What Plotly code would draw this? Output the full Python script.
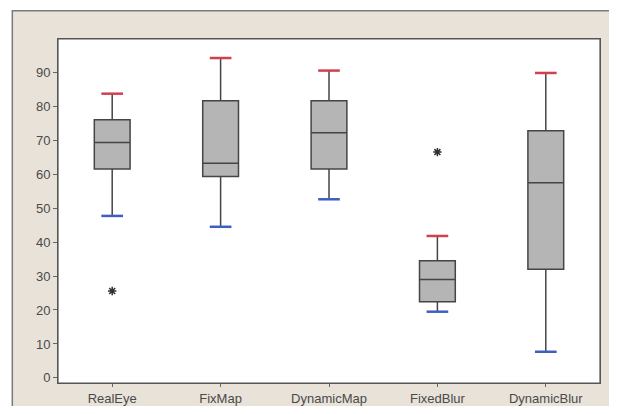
import plotly.graph_objects as go

categories = ["RealEye", "FixMap", "DynamicMap", "FixedBlur", "DynamicBlur"]
upper_whisker = [83.7, 94.2, 90.5, 41.8, 89.8]
q3 = [76.0, 81.6, 81.6, 34.5, 72.8]
median = [69.3, 63.2, 72.2, 29.0, 57.5]
q1 = [61.5, 59.3, 61.5, 22.4, 32.0]
lower_whisker = [47.7, 44.5, 52.6, 19.5, 7.7]
outlier_cat = ["RealEye", "FixedBlur"]
outlier_val = [25.6, 66.5]
y_ticks = [0, 10, 20, 30, 40, 50, 60, 70, 80, 90]

xpos = list(range(len(categories)))

fig = go.Figure()
fig.add_trace(go.Box(
    x=xpos, q1=q1, median=median, q3=q3,
    lowerfence=lower_whisker, upperfence=upper_whisker,
    width=0.33, whiskerwidth=0, boxpoints=False,
    fillcolor="#B5B5B5", line=dict(color="#454545", width=1.5),
    showlegend=False, hoverinfo="skip",
))

def caps(vals):
    xs, ys = [], []
    for i, v in zip(xpos, vals):
        xs += [i - 0.1, i + 0.1, None]
        ys += [v, v, None]
    return xs, ys

cx, cy = caps(upper_whisker)
fig.add_trace(go.Scatter(x=cx, y=cy, mode="lines", line=dict(color="#D0404F", width=2.5),
                         showlegend=False, hoverinfo="skip"))
cx, cy = caps(lower_whisker)
fig.add_trace(go.Scatter(x=cx, y=cy, mode="lines", line=dict(color="#3F5FC0", width=2.5),
                         showlegend=False, hoverinfo="skip"))

fig.add_trace(go.Scatter(
    x=[categories.index(c) for c in outlier_cat], y=outlier_val, mode="markers",
    marker=dict(symbol="asterisk-open", size=7, color="#303030", line=dict(color="#303030", width=1.5)),
    showlegend=False, hoverinfo="skip",
))

BEIGE = "#E8E2D9"
FX0, FY1 = -0.0843, 1.082
# white strips outside the beige frame (top / left)
fig.add_shape(type="rect", xref="paper", yref="paper", x0=-0.2, x1=1.2, y0=FY1, y1=1.2,
              fillcolor="white", line=dict(width=0), layer="below")
fig.add_shape(type="rect", xref="paper", yref="paper", x0=-0.2, x1=FX0, y0=-0.2, y1=1.2,
              fillcolor="white", line=dict(width=0), layer="below")
# beige frame outline
fig.add_shape(type="rect", xref="paper", yref="paper", x0=FX0, x1=1.08, y0=-0.15, y1=FY1,
              fillcolor=BEIGE, line=dict(color="#7A7A7A", width=1.5), layer="below")
# white plot area
fig.add_shape(type="rect", xref="paper", yref="paper", x0=0, x1=1, y0=0, y1=1,
              fillcolor="white", line=dict(color="#555555", width=1.2), layer="below")

fig.update_layout(
    width=601, height=398,
    margin=dict(l=50, r=9, t=31, b=23, autoexpand=False),
    paper_bgcolor=BEIGE, plot_bgcolor="white",
    font=dict(family="Liberation Sans, Arial, sans-serif", size=13, color="#4A4A4A"),
    xaxis=dict(range=[-0.5, 4.5], tickvals=xpos, ticktext=categories, showgrid=False,
               zeroline=False, ticks="outside", ticklen=3, tickcolor="#666666", automargin=False,
               showline=True, linecolor="#555555", mirror=True, tickfont=dict(size=13)),
    yaxis=dict(range=[-1.5, 99.8], tickvals=y_ticks, showgrid=False, zeroline=False,
               ticks="outside", ticklen=4, tickcolor="#666666", automargin=False,
               showline=True, linecolor="#555555", mirror=True, tickfont=dict(size=13)),
)

fig.write_html("out.html")
